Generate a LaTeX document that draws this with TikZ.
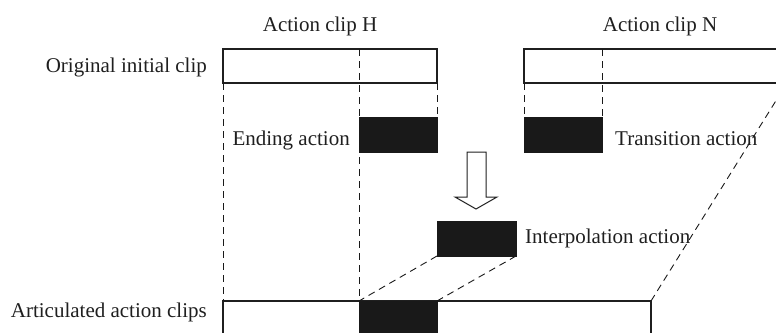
\documentclass[tikz,border=0pt]{standalone}
\usepackage{fontspec}
\setmainfont{Liberation Serif}
\begin{document}
\begin{tikzpicture}[x=1pt,y=-1pt,
  clipbox/.style={draw=black!88, line width=1.1pt, fill=white, inner sep=0pt, outer sep=0pt,
    anchor=north west, minimum height=34pt},
  blockbox/.style={draw=black!90, fill=black!90, line width=0.6pt, inner sep=0pt, outer sep=0pt,
    anchor=north west, minimum width=78pt, minimum height=35pt},
  guide/.style={dash pattern=on 7pt off 5pt, line width=0.9pt, black!90},
  lbl/.style={font=\fontsize{21}{24}\selectfont, inner sep=0pt, text=black!88}]
\useasboundingbox (0,0) rectangle (776,332);
\clip (0,0) rectangle (776,332);

% clip bars
\node[clipbox, minimum width=214pt] (H) at (223,49) {};
\node[clipbox, minimum width=263pt] (N) at (524,49) {};
\node[clipbox, minimum width=428pt, minimum height=60pt] (A) at (223,301) {};

% action segments
\node[blockbox] (E) at (359,117) {};
\node[blockbox] (T) at (524,117) {};
\node[blockbox, minimum width=79pt] (I) at (437,221) {};
\node[blockbox, minimum height=40pt] (AI) at (359,301) {};

% dashed guides
\draw[guide] (H.south west) -- (A.north west);
\draw[guide] (E.north west |- H.north) -- (E.north west |- A.north);
\draw[guide] (H.south east) -- (E.north east);
\draw[guide] (N.south west) -- (T.north west);
\draw[guide] (T.north east |- N.north) -- (T.north east);
\draw[guide] (I.south west) -- (AI.north west);
\draw[guide] (I.south east) -- (AI.north east);
\draw[guide] (A.north east) -- (N.south east);

% hollow arrow
\draw[line width=1pt, black!88, fill=white, line join=miter]
  (467,152) -- (486,152) -- (486,197) -- (497,197) -- (476,209)
  -- (455,197) -- (467,197) -- cycle;

% labels
\node[lbl, anchor=base] (lH) at (320,31) {Action clip H};
\node[lbl, anchor=base] (lN) at (660,31) {Action clip N};
\node[lbl, anchor=base east] (lO) at (207,72) {Original initial clip};
\node[lbl, anchor=base east] (lE) at (350,145) {Ending action};
\node[lbl, anchor=base west] (lT) at (615,145) {Transition action};
\node[lbl, anchor=base west] (lI) at (525,243) {Interpolation action};
\node[lbl, anchor=base east] (lA) at (207,317) {Articulated action clips};
\end{tikzpicture}
\end{document}
